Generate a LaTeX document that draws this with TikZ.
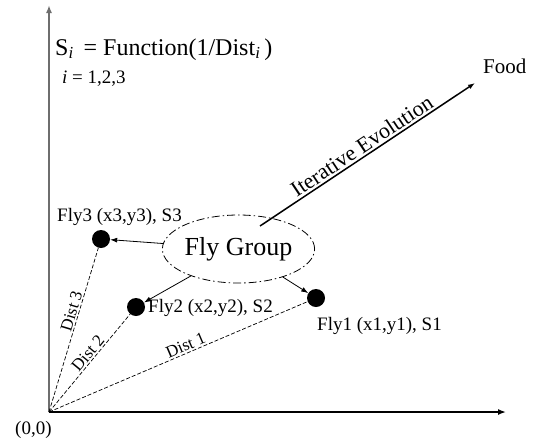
\documentclass[tikz,border=0pt]{standalone}
\usepackage{fontspec}
\setmainfont{Liberation Serif}
\usetikzlibrary{shapes.geometric,arrows.meta}
\definecolor{axisgray}{RGB}{110,110,110}
\tikzset{
  fs/.style={font=\fontsize{#1}{#1}\selectfont},
  fly/.style={circle,fill=black,minimum size=18pt,inner sep=0pt},
  lbl/.style={fs=19,inner sep=0pt,anchor=base west},
  tip/.style={-{Latex[length=7pt,width=5pt]}},
  distline/.style={dash pattern=on 4pt off 2pt,line width=0.7pt},
  distlbl/.style={fs=17,sloped,above,inner sep=1.5pt},
}
\begin{document}
\begin{tikzpicture}[x=1pt,y=-1pt]
\useasboundingbox (0,0) rectangle (534,437);
\coordinate (o) at (49,412);
\coordinate (ytop) at (49,5);
\coordinate (xend) at (506,412);
\draw[axisgray,line width=2pt,-{Latex[length=8pt,width=6pt]}] (o) -- (ytop);
\draw[black,line width=1.5pt,-{Latex[length=8pt,width=6pt]}] (o) -- (xend);

\node[fs=24,inner sep=0pt,anchor=base west] (form) at (55,55) {S\textsubscript{\textit{i}}\, = Function(1/Dist\textsubscript{\textit{i}}\,)};
\node[fs=19,inner sep=0pt,anchor=base west] (idx) at (62,83) {\textit{i} = 1,2,3};

\node[fly] (f3) at (101,239) {};
\node[fly] (f2) at (136,307) {};
\node[fly] (f1) at (316,298) {};

\node[lbl] (l3) at (57,221) {Fly3 (x3,y3), S3};
\node[lbl] (l2) at (148,312) {Fly2 (x2,y2), S2};
\node[lbl] (l1) at (317,330) {Fly1 (x1,y1), S1};
\node[lbl] (zero) at (15,434) {(0,0)};

\node[ellipse,draw,line width=0.8pt,dash pattern=on 8pt off 3pt on 1.5pt off 3pt,
      minimum width=143pt,minimum height=68pt,inner sep=0pt,fs=26] (g) at (238.5,249) {Fly Group};

\coordinate (evs) at (260,226);
\coordinate (food) at (475,83);
\draw[line width=1.5pt,tip] (evs) -- node[fs=22,sloped,above,inner sep=2pt,pos=0.5] {Iterative Evolution} (food);
\node[fs=21,inner sep=0pt,anchor=base west] (foodlbl) at (483,73) {Food};

\draw[line width=0.8pt,tip] (g) -- (f3);
\draw[line width=0.8pt,tip] (g) -- (f2);
\draw[line width=0.8pt,tip] (g) -- (f1);

\draw[distline] (o) -- node[distlbl,pos=0.6] {Dist 3} (f3);
\draw[distline] (o) -- node[distlbl,pos=0.55] {Dist 2} (f2);
\draw[distline] (o) -- node[distlbl,pos=0.54] {Dist 1} (f1);
\end{tikzpicture}
\end{document}
